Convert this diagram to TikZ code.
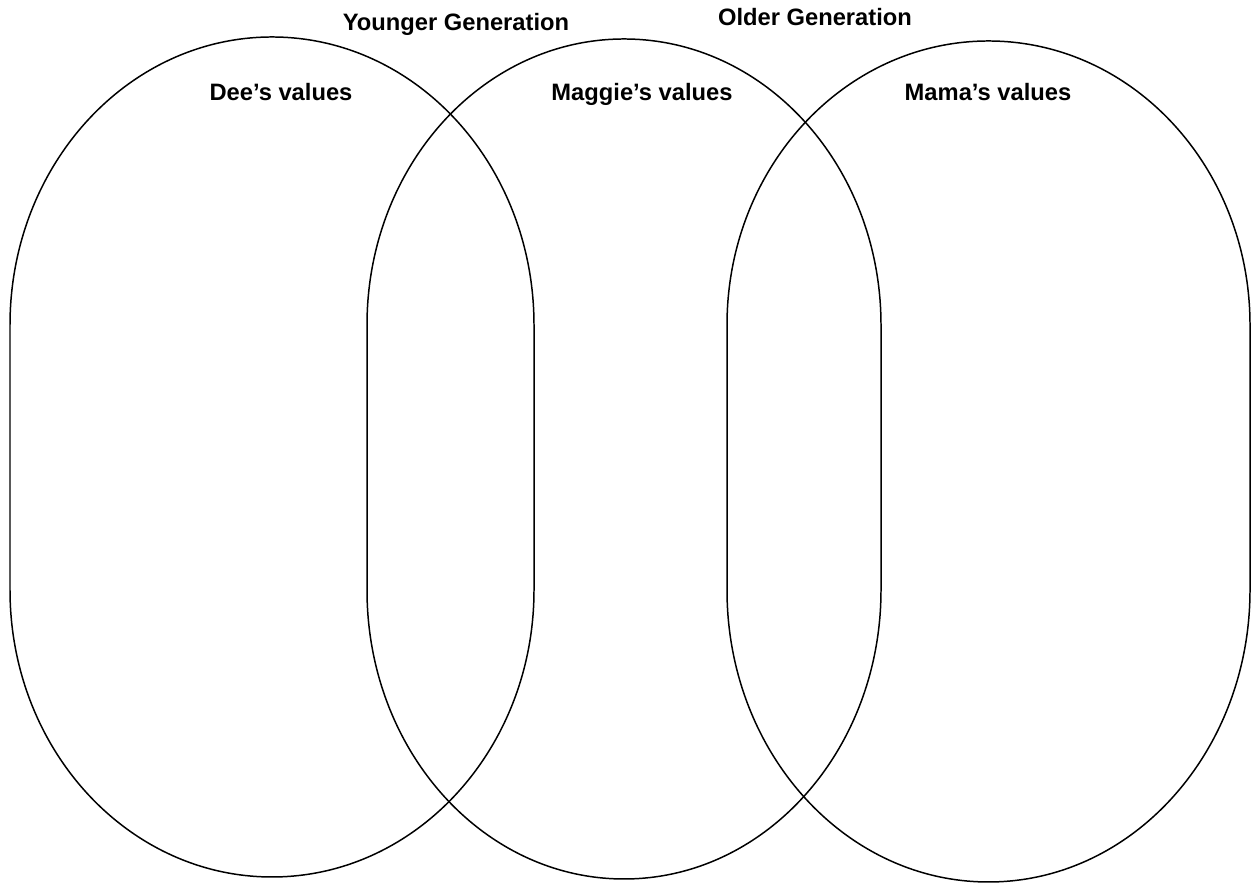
\documentclass[tikz,border=0pt]{standalone}
\usepackage{fontspec}
\setmainfont{Liberation Sans}
\usepackage{tikz}
\usetikzlibrary{positioning}

\begin{document}
\begin{tikzpicture}[
  x=0.02cm,
  y=0.02cm,
  line cap=round,
  line join=round,
  valueoval/.style={black,line width=0.85pt},
  heading/.style={font=\bfseries\fontsize{13.5}{16}\selectfont,inner sep=0pt}
]
\path[use as bounding box] (0,0) rectangle (1254,884);

% left oval: Dee
\draw[valueoval] (10,559) -- (10,294)
  arc[start angle=180,end angle=360,x radius=262,y radius=287]
  -- (534,559)
  arc[start angle=0,end angle=180,x radius=262,y radius=288];

% middle oval: Maggie
\draw[valueoval] (367,559) -- (367,294)
  arc[start angle=180,end angle=360,x radius=257,y radius=289]
  -- (881,559)
  arc[start angle=0,end angle=180,x radius=257,y radius=286];

% right oval: Mama
\draw[valueoval] (727,559) -- (727,294)
  arc[start angle=180,end angle=360,x radius=261.5,y radius=292]
  -- (1250,559)
  arc[start angle=0,end angle=180,x radius=261.5,y radius=284];

\node[heading] (younger) at (456,860) {Younger Generation};
\node[heading] (older) at (815,867) {Older Generation};

\node[heading] (dee) at (281,792) {Dee’s values};
\node[heading] (maggie) at (642,790) {Maggie’s values};
\node[heading] (mama) at (988,792) {Mama’s values};
\end{tikzpicture}
\end{document}
